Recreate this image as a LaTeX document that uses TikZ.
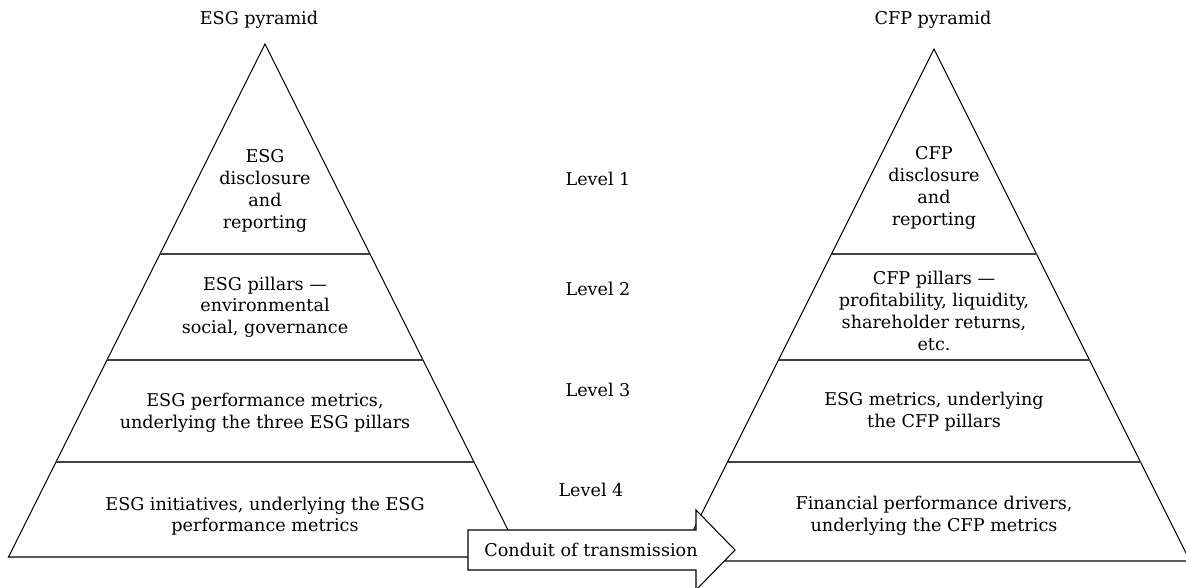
\documentclass[tikz,border=0pt]{standalone}
\usepackage{fontspec}
\setmainfont{DejaVu Serif}
\begin{document}
\begin{tikzpicture}[x=0.75pt,y=-0.75pt,
  every node/.style={font=\fontsize{13.2}{16.3}\selectfont, inner sep=0pt},
  txt/.style={align=center},
  pyr/.style={draw=black, line width=0.8pt},
  lvl/.style={draw=black!75, line width=0.8pt},
  conduit/.style={draw=black, fill=white, line width=0.8pt}]
\clip (0,0) rectangle (1186,587);
\fill[white] (0,0) rectangle (1186,587);
% left pyramid
\coordinate (LA) at (265,44);
\coordinate (LL) at (8.5,557);
\coordinate (LR) at (521.5,557);
\draw[pyr] (LA) -- (LL) -- (LR) -- cycle;
\draw[lvl] (160,254) -- (370,254);
\draw[lvl] (107,360) -- (423,360);
\draw[lvl] (56,462) -- (474,462);
% right pyramid
\coordinate (RA) at (934,49);
\coordinate (RL) at (678,561);
\coordinate (RR) at (1190,561);
\draw[pyr] (RA) -- (RL) -- (RR) -- cycle;
\draw[lvl] (831.5,254) -- (1036.5,254);
\draw[lvl] (778.5,360) -- (1089.5,360);
\draw[lvl] (727.5,462) -- (1140.5,462);
% titles
\node (t1) at (259,20) {ESG pyramid};
\node (t2) at (933,20) {CFP pyramid};
% left texts
\node[txt] (l1) at (265,191) {ESG\\disclosure\\and\\reporting};
\node[txt] (l2) at (265,307) {ESG pillars —\\environmental\\social, governance};
\node[txt] (l3) at (265,413) {ESG performance metrics,\\underlying the three ESG pillars};
\node[txt] (l4) at (265,516) {ESG initiatives, underlying the ESG\\performance metrics};
% right texts
\node[txt] (r1) at (934,188) {CFP\\disclosure\\and\\reporting};
\node[txt] (r2) at (934,311) {CFP pillars —\\profitability, liquidity,\\shareholder returns,\\etc.};
\node[txt] (r3) at (934,412) {ESG metrics, underlying\\the CFP pillars};
\node[txt] (r4) at (934,516) {Financial performance drivers,\\underlying the CFP metrics};
% levels
\node (v1) at (598,179) {Level 1};
\node (v2) at (598,289) {Level 2};
\node (v3) at (598,390) {Level 3};
\node (v4) at (591,490) {Level 4};
% conduit arrow
\draw[conduit] (468,530) -- (696,530) -- (696,510) -- (735,550) -- (696,590) -- (696,570) -- (468,570) -- cycle;
\node (c) at (591,550) {Conduit of transmission};
\end{tikzpicture}
\end{document}
